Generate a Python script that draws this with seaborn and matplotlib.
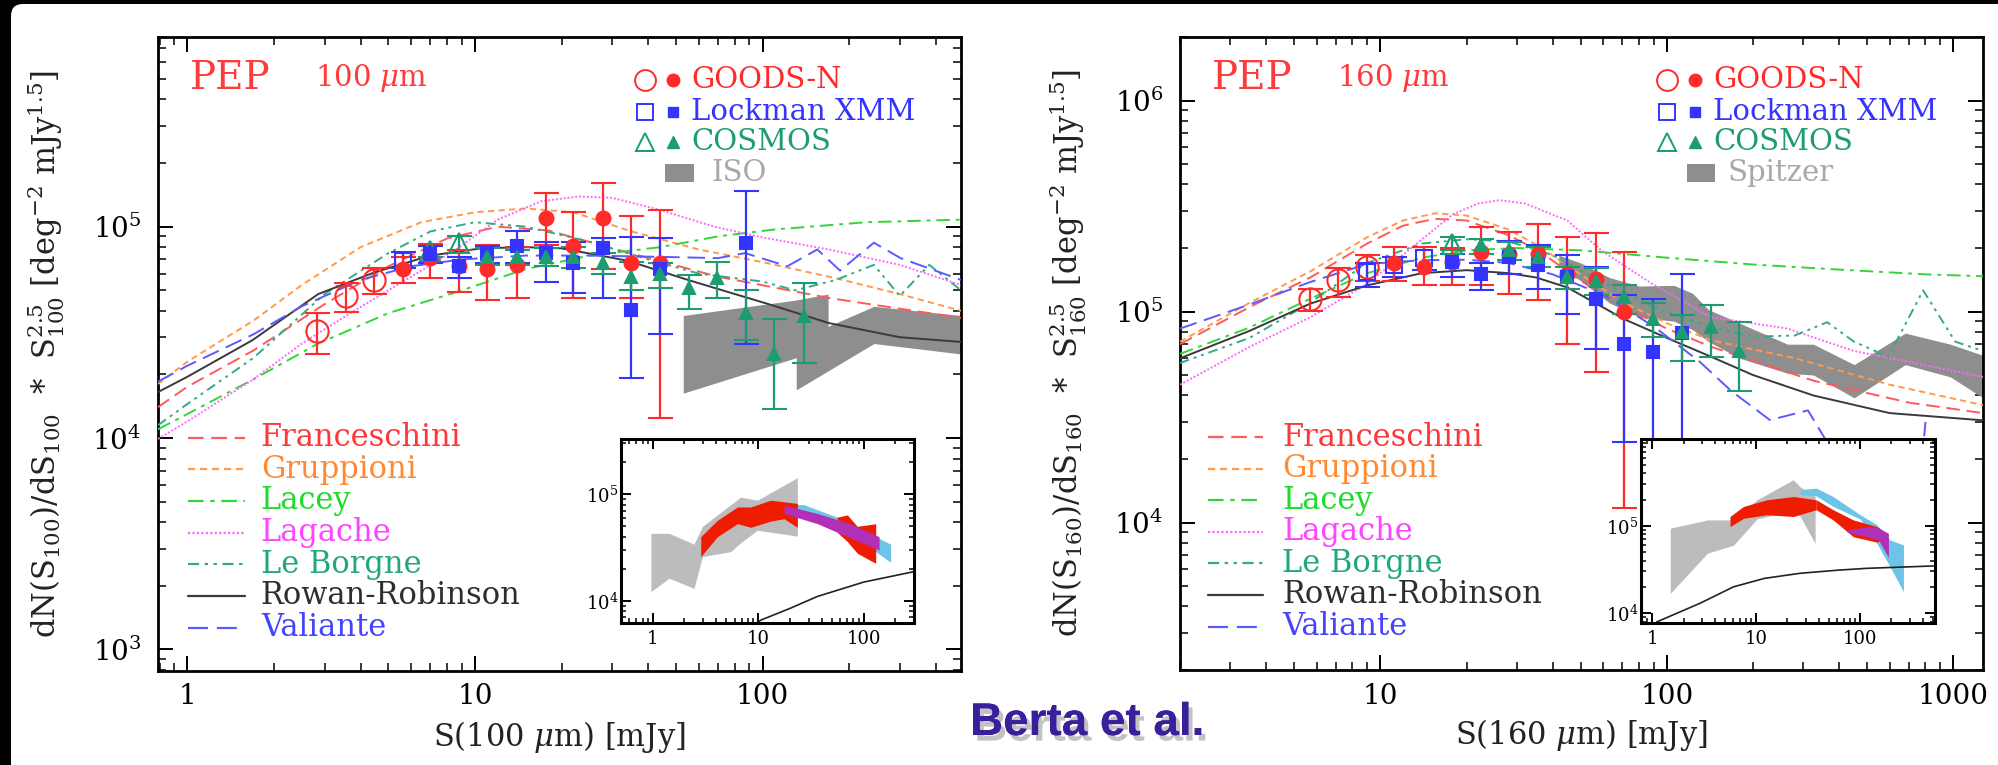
import numpy as np
import pandas as pd
import seaborn as sns
import matplotlib.pyplot as plt
import matplotlib.patheffects as pe
from matplotlib.patches import FancyBboxPatch, Rectangle
from matplotlib.ticker import LogLocator, NullFormatter, FuncFormatter

# ---------------- values ----------------
# 100 micron panel: data points (S [mJy], counts, lower, upper)
goods100_open_s = [2.82, 3.55, 4.47]
goods100_open_n = [3.2e4, 4.7e4, 5.6e4]
goods100_open_lo = [2.5e4, 3.95e4, 4.8e4]
goods100_open_hi = [3.9e4, 5.4e4, 6.4e4]

goods100_s = [5.6, 7.0, 8.8, 11.0, 14.0, 17.6, 22.0, 27.8, 34.8, 44.0]
goods100_n = [6.3e4, 7.1e4, 6.5e4, 6.3e4, 6.6e4, 1.10e5, 8.1e4, 1.10e5, 6.7e4, 6.7e4]
goods100_lo = [5.4e4, 5.7e4, 4.9e4, 4.5e4, 4.6e4, 8.2e4, 4.6e4, 6.3e4, 4.6e4, 1.24e4]
goods100_hi = [7.2e4, 8.3e4, 7.8e4, 8.2e4, 8.0e4, 1.44e5, 1.17e5, 1.61e5, 1.12e5, 1.2e5]

lock100_open_s = [5.6]
lock100_open_n = [6.9e4]
lock100_open_lo = [6.4e4]
lock100_open_hi = [7.6e4]

lock100_s = [7.0, 8.8, 11.0, 14.0, 17.6, 22.0, 27.8, 34.8, 44.0, 87.3]
lock100_n = [7.4e4, 6.5e4, 7.4e4, 8.1e4, 7.5e4, 6.7e4, 7.9e4, 4.05e4, 6.3e4, 8.4e4]
lock100_lo = [6.7e4, 5.7e4, 6.7e4, 6.7e4, 5.5e4, 4.85e4, 4.6e4, 1.92e4, 3.1e4, 2.8e4]
lock100_hi = [8.1e4, 7.2e4, 8.1e4, 9.5e4, 8.5e4, 8.5e4, 8.8e4, 8.9e4, 8.8e4, 1.47e5]

cosmos100_open_s = [7.0, 8.8]
cosmos100_open_n = [7.7e4, 8.4e4]
cosmos100_open_lo = [7.2e4, 7.8e4]
cosmos100_open_hi = [8.2e4, 9.0e4]

cosmos100_s = [11.0, 14.0, 17.6, 22.0, 27.8, 34.8, 44.0, 55.4, 69.7, 87.3, 110, 139]
cosmos100_n = [7.2e4, 7.2e4, 7.2e4, 7.2e4, 6.7e4, 5.8e4, 6.0e4, 5.1e4, 5.7e4, 3.9e4, 2.5e4, 3.8e4]
cosmos100_lo = [6.6e4, 6.6e4, 6.5e4, 6.4e4, 6.0e4, 5.0e4, 5.1e4, 4.1e4, 4.6e4, 2.9e4, 1.37e4, 2.26e4]
cosmos100_hi = [7.9e4, 7.8e4, 7.9e4, 8.0e4, 7.5e4, 6.8e4, 6.7e4, 5.9e4, 6.8e4, 5.0e4, 3.66e4, 5.4e4]

# ISO band (two pieces)
iso_a_s = [53, 131, 169]
iso_a_hi = [3.8e4, 4.5e4, 4.8e4]
iso_a_lo = [1.63e4, 2.4e4, 2.8e4]
iso_b_s = [131, 244, 490]
iso_b_hi = [2.9e4, 4.2e4, 3.8e4]
iso_b_lo = [1.69e4, 2.8e4, 2.5e4]

# 100 micron models
fran100_s = [0.79, 1.0, 1.7, 3.0, 5.0, 8.0, 12, 18, 29, 70, 170, 490]
fran100_n = [1.4e4, 1.75e4, 2.6e4, 4.3e4, 6.5e4, 8.8e4, 1.0e5, 9.6e4, 8.0e4, 5.8e4, 4.6e4, 3.7e4]
grup100_s = [0.79, 1.0, 1.7, 2.5, 4.0, 6.5, 10, 15, 22, 35, 60, 100, 180, 300, 490]
grup100_n = [1.8e4, 2.3e4, 3.6e4, 5.3e4, 8.0e4, 1.05e5, 1.17e5, 1.22e5, 1.17e5, 9.5e4, 7.8e4, 6.8e4, 5.7e4, 4.8e4, 4.0e4]
lacey100_s = [0.79, 1.0, 1.7, 2.85, 5, 8.6, 15, 25, 44, 70, 110, 230, 490]
lacey100_n = [1.1e4, 1.3e4, 1.9e4, 2.8e4, 3.9e4, 4.9e4, 6.3e4, 7.3e4, 8.0e4, 9.0e4, 9.7e4, 1.05e5, 1.08e5]
lag100_s = [0.79, 1.0, 1.7, 2.5, 3.8, 6, 8.6, 12, 17, 23, 30, 44, 68, 100, 170, 300, 490]
lag100_n = [9.9e3, 1.2e4, 1.9e4, 2.8e4, 4.0e4, 5.8e4, 7.8e4, 1.08e5, 1.32e5, 1.39e5, 1.37e5, 1.2e5, 1.0e5, 8.9e4, 7.8e4, 6.6e4, 5.3e4]
lebo100_s = [0.79, 1.0, 1.7, 3, 5, 7, 10, 15, 25, 40, 60, 100, 130, 180, 244, 300, 380, 490]
lebo100_n = [1.15e4, 1.45e4, 2.4e4, 4.8e4, 7.5e4, 9.5e4, 1.05e5, 1.0e5, 8.5e4, 7.0e4, 6.0e4, 5.5e4, 5.0e4, 5.6e4, 6.6e4, 4.7e4, 6.6e4, 5.0e4]
rr100_s = [0.79, 1.0, 1.68, 2.85, 4.5, 7, 10.5, 15, 20, 34, 55, 105, 170, 300, 490]
rr100_n = [1.65e4, 1.95e4, 2.9e4, 4.8e4, 6.1e4, 7.3e4, 7.9e4, 8.0e4, 7.9e4, 6.9e4, 5.6e4, 4.3e4, 3.5e4, 3.0e4, 2.85e4]
vali100_s = [0.79, 1.0, 1.7, 2.5, 4, 6, 9, 15, 25, 44, 70, 87, 122, 155, 186, 244, 302, 490]
vali100_n = [1.85e4, 2.2e4, 3.1e4, 4.2e4, 5.6e4, 6.5e4, 7.0e4, 7.3e4, 7.3e4, 7.2e4, 7.1e4, 7.5e4, 6.5e4, 7.8e4, 6.2e4, 8.4e4, 7.1e4, 5.6e4]

# 160 micron panel: data points
goods160_open_s = [5.7, 7.1, 9.0]
goods160_open_n = [1.15e5, 1.41e5, 1.62e5]
goods160_open_lo = [1.01e5, 1.17e5, 1.4e5]
goods160_open_hi = [1.28e5, 1.6e5, 1.85e5]

goods160_s = [11.2, 14.2, 17.8, 22.5, 28.2, 35.6, 44.8, 56.6, 71.0]
goods160_n = [1.69e5, 1.62e5, 1.72e5, 1.91e5, 1.88e5, 1.88e5, 1.51e5, 1.43e5, 1.0e5]
goods160_lo = [1.40e5, 1.33e5, 1.33e5, 1.33e5, 1.21e5, 1.13e5, 7.0e4, 5.15e4, 1.17e4]
goods160_hi = [2.02e5, 2.02e5, 2.0e5, 2.51e5, 2.38e5, 2.61e5, 2.25e5, 2.36e5, 1.91e5]

lock160_open_s = [9.0, 11.2, 14.2]
lock160_open_n = [1.54e5, 1.66e5, 1.80e5]
lock160_open_lo = [1.3e5, 1.46e5, 1.57e5]
lock160_open_hi = [1.69e5, 1.81e5, 2.02e5]

lock160_s = [17.8, 22.5, 28.2, 35.6, 44.8, 56.6, 71.0, 89.8, 113]
lock160_n = [1.72e5, 1.51e5, 1.81e5, 1.66e5, 1.46e5, 1.15e5, 7.0e4, 6.4e4, 7.9e4]
lock160_lo = [1.46e5, 1.26e5, 1.51e5, 1.28e5, 9.75e4, 6.66e4, 2.4e4, 5.0e3, 5.0e3]
lock160_hi = [1.88e5, 1.69e5, 2.17e5, 2.06e5, 1.85e5, 1.62e5, 1.2e5, 1.15e5, 1.51e5]

cosmos160_open_s = [17.8]
cosmos160_open_n = [2.1e5]
cosmos160_open_lo = [1.95e5]
cosmos160_open_hi = [2.25e5]

cosmos160_s = [22.5, 28.2, 35.6, 44.8, 56.6, 71.0, 89.8, 113, 143, 179]
cosmos160_n = [2.06e5, 1.95e5, 1.81e5, 1.46e5, 1.40e5, 1.17e5, 9.2e4, 8.0e4, 8.4e4, 6.5e4]
cosmos160_lo = [1.88e5, 1.75e5, 1.62e5, 1.28e5, 1.2e5, 9.75e4, 7.55e4, 5.85e4, 6.07e4, 4.22e4]
cosmos160_hi = [2.21e5, 2.13e5, 2.02e5, 1.62e5, 1.6e5, 1.33e5, 1.1e5, 9.6e4, 1.07e5, 8.9e4]

# Spitzer band
spitzer_s = [42, 50, 63, 80, 106, 123, 140, 180, 264, 325, 451, 680, 977, 1270]
spitzer_hi = [1.85e5, 1.7e5, 1.45e5, 1.32e5, 1.33e5, 1.22e5, 1.02e5, 8.8e4, 7.0e4, 7.0e4, 5.6e4, 7.9e4, 7.0e4, 6.2e4]
spitzer_lo = [1.65e5, 1.4e5, 1.1e5, 9.4e4, 9.0e4, 8.2e4, 7.2e4, 6.0e4, 5.1e4, 5.0e4, 3.9e4, 5.6e4, 4.9e4, 3.9e4]

# 160 micron models
fran160_s = [2, 3.5, 5.7, 9, 12, 15.5, 20, 28, 35.6, 50, 71, 100, 143, 325, 700, 1270]
fran160_n = [7.0e4, 1.05e5, 1.45e5, 2.1e5, 2.55e5, 2.75e5, 2.7e5, 2.3e5, 1.95e5, 1.4e5, 1.05e5, 8.3e4, 6.8e4, 4.7e4, 3.7e4, 3.3e4]
grup160_s = [2, 3.5, 5.7, 9, 12, 15.5, 20, 28, 35.6, 50, 71, 100, 143, 281, 600, 1270]
grup160_n = [7.2e4, 1.1e5, 1.55e5, 2.25e5, 2.7e5, 2.92e5, 2.85e5, 2.45e5, 2.05e5, 1.5e5, 1.1e5, 8.8e4, 7.3e4, 6.0e4, 4.5e4, 3.6e4]
lacey160_s = [2, 3.5, 5.7, 9, 14, 20, 30, 50, 100, 200, 400, 800, 1270]
lacey160_n = [6.3e4, 8.4e4, 1.15e5, 1.52e5, 1.8e5, 1.95e5, 2.0e5, 1.95e5, 1.8e5, 1.67e5, 1.58e5, 1.5e5, 1.47e5]
lag160_s = [2, 3.5, 5.7, 9, 14, 18, 22, 26, 32, 45, 59, 89, 143, 264, 450, 1270]
lag160_n = [4.5e4, 6.8e4, 9.4e4, 1.35e5, 2.2e5, 2.9e5, 3.25e5, 3.37e5, 3.25e5, 2.7e5, 1.95e5, 1.35e5, 9.4e4, 8.3e4, 6.5e4, 4.9e4]
lebo160_s = [2, 3.5, 5.7, 9, 14, 20, 28, 40, 59, 90, 143, 200, 280, 363, 450, 593, 785, 1016, 1270]
lebo160_n = [5.7e4, 7.5e4, 1.1e5, 1.7e5, 2.1e5, 2.2e5, 2.15e5, 1.85e5, 1.38e5, 1.05e5, 8.4e4, 7.6e4, 7.7e4, 8.9e4, 7.2e4, 6.1e4, 1.26e5, 7.2e4, 6.5e4]
rr160_s = [2, 3.5, 5.7, 9, 14, 20, 28, 35, 45, 71, 100, 143, 200, 325, 600, 1270]
rr160_n = [6.0e4, 8.1e4, 1.09e5, 1.33e5, 1.52e5, 1.57e5, 1.52e5, 1.45e5, 1.3e5, 9.2e4, 7.5e4, 6.1e4, 5.0e4, 4.0e4, 3.3e4, 3.05e4]
vali160_s = [2, 3.5, 5.7, 9, 14, 20, 28, 40, 60, 90, 130, 168, 229, 311, 363, 450, 600, 760, 800]
vali160_n = [8.3e4, 1.08e5, 1.38e5, 1.68e5, 1.75e5, 1.76e5, 1.7e5, 1.5e5, 1.2e5, 8.5e4, 5.8e4, 4.2e4, 3.06e4, 3.4e4, 2.4e4, 1.2e4, 8e3, 1.4e4, 3.0e4]

# inset of the 100 micron panel
in100_grey_s = [0.96, 1.43, 2.46, 2.96, 5.5, 6.8, 9.8, 23.5]
in100_grey_hi = [4.3e4, 4.3e4, 3.4e4, 5.0e4, 8.0e4, 9.4e4, 8.8e4, 1.43e5]
in100_grey_lo = [1.22e4, 1.63e4, 1.31e4, 2.6e4, 2.9e4, 3.5e4, 4.6e4, 4.05e4]
in100_red_a_s = [2.85, 4.1, 6.35, 8.5, 13.1, 17.6, 23.5]
in100_red_a_hi = [4.0e4, 5.7e4, 7.6e4, 7.6e4, 8.8e4, 8.5e4, 8.2e4]
in100_red_a_lo = [2.6e4, 4.0e4, 5.3e4, 4.9e4, 5.6e4, 5.9e4, 4.9e4]
in100_red_b_s = [56, 70, 87, 130]
in100_red_b_hi = [6.1e4, 6.4e4, 5.0e4, 5.3e4]
in100_red_b_lo = [4.4e4, 3.6e4, 2.8e4, 2.25e4]
in100_cyan_s = [17.6, 27, 56, 87, 130, 180]
in100_cyan_hi = [8.0e4, 8.0e4, 6.1e4, 5.0e4, 4.0e4, 3.4e4]
in100_cyan_lo = [7.0e4, 6.3e4, 4.5e4, 3.6e4, 2.9e4, 2.3e4]
in100_mag_s = [17.6, 36.4, 75, 140]
in100_mag_hi = [7.9e4, 6.6e4, 5.3e4, 4.0e4]
in100_mag_lo = [6.6e4, 5.3e4, 3.9e4, 3.0e4]
in100_rr_s = [8, 10.6, 20, 36.4, 100, 300]
in100_rr_n = [5.5e3, 6.6e3, 8.5e3, 1.1e4, 1.5e4, 1.88e4]

# inset of the 160 micron panel
in160_grey_s = [1.49, 3.4, 6.05, 10.2, 22.8, 26.5, 36.9]
in160_grey_hi = [9.4e4, 1.17e5, 1.17e5, 1.99e5, 3.38e5, 2.8e5, 2.17e5]
in160_grey_lo = [1.68e4, 4.86e4, 6.0e4, 1.2e5, 1.5e5, 1.28e5, 6.3e4]
in160_red_a_s = [5.6, 7.55, 12.7, 22.8, 37.8]
in160_red_a_hi = [1.28e5, 1.67e5, 1.99e5, 2.17e5, 1.99e5]
in160_red_a_lo = [9.8e4, 1.22e5, 1.34e5, 1.28e5, 1.53e5]
in160_red_b_s = [37.8, 55, 86, 145, 181]
in160_red_b_hi = [1.99e5, 1.53e5, 1.17e5, 9.8e4, 8.2e4]
in160_red_b_lo = [1.53e5, 1.17e5, 7.5e4, 6.5e4, 7.5e4]
in160_cyan_s = [26.5, 37.8, 55, 100, 145, 194, 261]
in160_cyan_hi = [2.6e5, 2.71e5, 2.17e5, 1.34e5, 1.03e5, 6.9e4, 6.05e4]
in160_cyan_lo = [2.3e5, 2.2e5, 1.67e5, 1.2e5, 6.3e4, 3.4e4, 1.76e4]
in160_mag_s = [74.5, 116, 150, 187]
in160_mag_hi = [9.0e4, 9.8e4, 9.5e4, 8.2e4]
in160_mag_lo = [8.5e4, 7.5e4, 6.9e4, 4.4e4]
in160_rr_s = [1.1, 2.9, 6.05, 12, 26.5, 60, 116, 507]
in160_rr_n = [7.9e3, 1.3e4, 2.0e4, 2.5e4, 2.86e4, 3.1e4, 3.26e4, 3.47e4]

model_names = ["Franceschini", "Gruppioni", "Lacey", "Lagache", "Le Borgne", "Rowan-Robinson", "Valiante"]

# ---------------- styling ----------------
model_colors = {"Franceschini": "#ff5a5a", "Gruppioni": "#ff9a4a", "Lacey": "#33d63a",
                "Lagache": "#ff66ff", "Le Borgne": "#33aa86", "Rowan-Robinson": "#3a3a3a",
                "Valiante": "#5a5aff"}
text_colors = {"Franceschini": "#ff3636", "Gruppioni": "#ff8a33", "Lacey": "#1fdc2a",
               "Lagache": "#ff44ff", "Le Borgne": "#22a878", "Rowan-Robinson": "#2e2e2e",
               "Valiante": "#4444ff"}
model_dashes = {"Franceschini": (7, 3.5), "Gruppioni": (3.2, 2.2), "Lacey": (7, 3, 2, 3),
                "Lagache": (1, 1), "Le Borgne": (5, 2.5, 1.5, 2.5, 1.5, 2.5),
                "Rowan-Robinson": "", "Valiante": (9, 4)}
RED, BLUE, GREEN = "#ff2a2a", "#3434ff", "#1c9c70"

sns.set_theme(style="ticks")
plt.rcParams["font.family"] = ["DejaVu Serif"]
plt.rcParams["mathtext.fontset"] = "dejavuserif"

fig = plt.figure(figsize=(19.98, 7.65), dpi=100)
fig.patch.set_facecolor("black")
fig.add_artist(FancyBboxPatch((0.11, -0.5), 20.5, 8.11, boxstyle="round,pad=0,rounding_size=0.12",
                              transform=fig.dpi_scale_trans, facecolor="white", edgecolor="none", zorder=-10))


def style_axes(ax, xlim, ylim, labelsize, major_len, minor_len, xpad, ypad, lw):
    ax.set_xlim(*xlim)
    ax.set_ylim(*ylim)
    for axis in (ax.xaxis, ax.yaxis):
        axis.set_major_locator(LogLocator(base=10, numticks=30))
        axis.set_minor_locator(LogLocator(base=10, subs=np.arange(2, 10), numticks=60))
        axis.set_minor_formatter(NullFormatter())
    ax.xaxis.set_major_formatter(FuncFormatter(lambda v, p: f"{v:g}"))
    ax.tick_params(which="both", direction="in", top=True, right=True, colors="black",
                   labelsize=labelsize)
    ax.tick_params(which="major", length=major_len, width=1.4)
    ax.tick_params(which="minor", length=minor_len, width=1.1)
    ax.tick_params(axis="x", pad=xpad)
    ax.tick_params(axis="y", pad=ypad)
    for sp in ax.spines.values():
        sp.set_color("black")
        sp.set_linewidth(lw)


def model_frame(curves):
    rows = []
    for name, (s, n) in zip(model_names, curves):
        rows += [{"model": name, "S": a, "N": b} for a, b in zip(s, n)]
    return pd.DataFrame(rows)


def points(ax, s, n, lo, hi, marker, color, filled, ms):
    s, n, lo, hi = map(np.asarray, (s, n, lo, hi))
    ax.errorbar(s, n, yerr=[n - lo, hi - n], fmt=marker, ms=ms, mew=1.5,
                mfc=color if filled else "none", mec=color, ecolor=color,
                elinewidth=1.6, capsize=9, capthick=1.6, zorder=5, clip_on=True)


def draw_panel(ax, xlim, ylim, curves, data, bands, band_label, survey_label, wl, ylab, xlab):
    ax.set_xscale("log")
    ax.set_yscale("log")
    for s, lo, hi in bands:
        ax.fill_between(s, lo, hi, color="#8e8e8e", lw=0, zorder=1)
    df = model_frame(curves)
    sns.lineplot(data=df, x="S", y="N", hue="model", style="model", palette=model_colors,
                 dashes=model_dashes, estimator=None, sort=False, legend=False, lw=1.4,
                 ax=ax, zorder=3)
    for args in data:
        points(ax, *args)
    style_axes(ax, xlim, ylim, 20, 11, 5.5, 9, 12, 2.0)
    ax.set_xlabel(xlab, fontsize=22, color="#222222")
    ax.set_ylabel(ylab, fontsize=22, color="#222222")
    ax.xaxis.set_label_coords(0.5, -0.075)
    ax.yaxis.set_label_coords(-0.113, 0.5)

    # title text
    ax.text(0.04, 0.935, "PEP", transform=ax.transAxes, fontsize=28, color="#ff3a3a", va="center")
    ax.text(0.195, 0.935, wl, transform=ax.transAxes, fontsize=21, color="#ff3a3a", va="center")

    # survey legend (top right)
    rows_y = [0.932, 0.882, 0.834]
    legend_rows = [("GOODS-N", "o", RED, 15, 9), ("Lockman XMM", "s", BLUE, 11, 7),
                   ("COSMOS", "^", GREEN, 13, 9)]
    for y, (lab, mk, col, ms_o, ms_f) in zip(rows_y, legend_rows):
        ax.plot([0.606], [y], mk, ms=ms_o, mfc="none", mec=col, mew=1.4, transform=ax.transAxes)
        ax.plot([0.641], [y], mk, ms=ms_f, color=col, transform=ax.transAxes)
        ax.text(0.664, y, lab, transform=ax.transAxes, fontsize=21, color=col, va="center")
    ax.add_patch(Rectangle((survey_label[1], 0.771), 0.035, 0.029, transform=ax.transAxes,
                           facecolor="#8e8e8e", edgecolor="none"))
    ax.text(survey_label[2], 0.785, survey_label[0], transform=ax.transAxes, fontsize=21,
            color="#a8a8a8", va="center")

    # model legend (bottom left)
    for i, name in enumerate(model_names):
        y = 0.368 - i * 0.0499
        ls = "-" if model_dashes[name] == "" else (0, model_dashes[name])
        ax.plot([band_label[0], band_label[1]], [y, y], transform=ax.transAxes,
                color=model_colors[name], lw=1.6, linestyle=ls)
        ax.text(band_label[2], y, name, transform=ax.transAxes, fontsize=22,
                color=text_colors[name], va="center")


def draw_inset(rect, xlim, ylim, grey, reds, cyan, mag, rr):
    ins = fig.add_axes(rect)
    ins.set_facecolor("white")
    ins.set_zorder(10)
    ins.set_xscale("log")
    ins.set_yscale("log")
    ins.fill_between(grey[0], grey[1], grey[2], color="#bcbcbc", lw=0)
    ins.fill_between(cyan[0], cyan[1], cyan[2], color="#6ec4e6", lw=0)
    for s, lo, hi in reds:
        ins.fill_between(s, lo, hi, color="#ee1c00", lw=0)
    ins.fill_between(mag[0], mag[1], mag[2], color="#b030b8", lw=0)
    sns.lineplot(x=rr[0], y=rr[1], ax=ins, color="#222222", lw=1.2, estimator=None, sort=False)
    style_axes(ins, xlim, ylim, 13, 7, 3.5, 5, 2, 2.2)
    ins.set_xlabel("")
    ins.set_ylabel("")


# ---------------- 100 micron ----------------
ax1 = fig.add_axes([158 / 1998, 1 - 671 / 765, 803 / 1998, 634 / 765])
draw_panel(
    ax1, (0.79, 490), (790, 7.9e5),
    [(fran100_s, fran100_n), (grup100_s, grup100_n), (lacey100_s, lacey100_n),
     (lag100_s, lag100_n), (lebo100_s, lebo100_n), (rr100_s, rr100_n), (vali100_s, vali100_n)],
    [(goods100_open_s, goods100_open_n, goods100_open_lo, goods100_open_hi, "o", RED, False, 16),
     (lock100_open_s, lock100_open_n, lock100_open_lo, lock100_open_hi, "s", BLUE, False, 12),
     (cosmos100_open_s, cosmos100_open_n, cosmos100_open_lo, cosmos100_open_hi, "^", GREEN, False, 14),
     (goods100_s, goods100_n, goods100_lo, goods100_hi, "o", RED, True, 10),
     (lock100_s, lock100_n, lock100_lo, lock100_hi, "s", BLUE, True, 8),
     (cosmos100_s, cosmos100_n, cosmos100_lo, cosmos100_hi, "^", GREEN, True, 9)],
    [(iso_a_s, iso_a_lo, iso_a_hi), (iso_b_s, iso_b_lo, iso_b_hi)],
    (0.037, 0.108, 0.128), ("ISO", 0.632, 0.689), r"100 $\mu$m",
    r"dN(S$_{100}$)/dS$_{100}$  *  S$^{2.5}_{100}$ [deg$^{-2}$ mJy$^{1.5}$]",
    r"S(100 $\mu$m) [mJy]")

# ---------------- 160 micron ----------------
ax2 = fig.add_axes([1180 / 1998, 1 - 670 / 765, 803 / 1998, 633 / 765])
draw_panel(
    ax2, (2.0, 1270), (2000, 2.0e6),
    [(fran160_s, fran160_n), (grup160_s, grup160_n), (lacey160_s, lacey160_n),
     (lag160_s, lag160_n), (lebo160_s, lebo160_n), (rr160_s, rr160_n), (vali160_s, vali160_n)],
    [(goods160_open_s, goods160_open_n, goods160_open_lo, goods160_open_hi, "o", RED, False, 16),
     (lock160_open_s, lock160_open_n, lock160_open_lo, lock160_open_hi, "s", BLUE, False, 12),
     (cosmos160_open_s, cosmos160_open_n, cosmos160_open_lo, cosmos160_open_hi, "^", GREEN, False, 14),
     (goods160_s, goods160_n, goods160_lo, goods160_hi, "o", RED, True, 10),
     (lock160_s, lock160_n, lock160_lo, lock160_hi, "s", BLUE, True, 8),
     (cosmos160_s, cosmos160_n, cosmos160_lo, cosmos160_hi, "^", GREEN, True, 9)],
    [(spitzer_s, spitzer_lo, spitzer_hi)],
    (0.035, 0.103, 0.127), ("Spitzer", 0.631, 0.682), r"160 $\mu$m",
    r"dN(S$_{160}$)/dS$_{160}$  *  S$^{2.5}_{160}$ [deg$^{-2}$ mJy$^{1.5}$]",
    r"S(160 $\mu$m) [mJy]")

# ---------------- insets ----------------
draw_inset([621 / 1998, 1 - 623 / 765, 293 / 1998, 184 / 765], (0.5, 300), (6200, 3.3e5),
           (in100_grey_s, in100_grey_lo, in100_grey_hi),
           [(in100_red_a_s, in100_red_a_lo, in100_red_a_hi), (in100_red_b_s, in100_red_b_lo, in100_red_b_hi)],
           (in100_cyan_s, in100_cyan_lo, in100_cyan_hi), (in100_mag_s, in100_mag_lo, in100_mag_hi),
           (in100_rr_s, in100_rr_n))
draw_inset([1641 / 1998, 1 - 623 / 765, 294 / 1998, 184 / 765], (0.78, 525), (7700, 9.9e5),
           (in160_grey_s, in160_grey_lo, in160_grey_hi),
           [(in160_red_a_s, in160_red_a_lo, in160_red_a_hi), (in160_red_b_s, in160_red_b_lo, in160_red_b_hi)],
           (in160_cyan_s, in160_cyan_lo, in160_cyan_hi), (in160_mag_s, in160_mag_lo, in160_mag_hi),
           (in160_rr_s, in160_rr_n))

fig.text(970 / 1998, 1 - 735 / 765, "Berta et al.", fontsize=33, color="#3a1f9c",
         family="Liberation Sans", weight="bold",
         path_effects=[pe.withSimplePatchShadow(offset=(3, -4), shadow_rgbFace="#9a9a9a", alpha=0.6),
                       pe.Normal()])

fig.savefig("out.png", dpi=100)
